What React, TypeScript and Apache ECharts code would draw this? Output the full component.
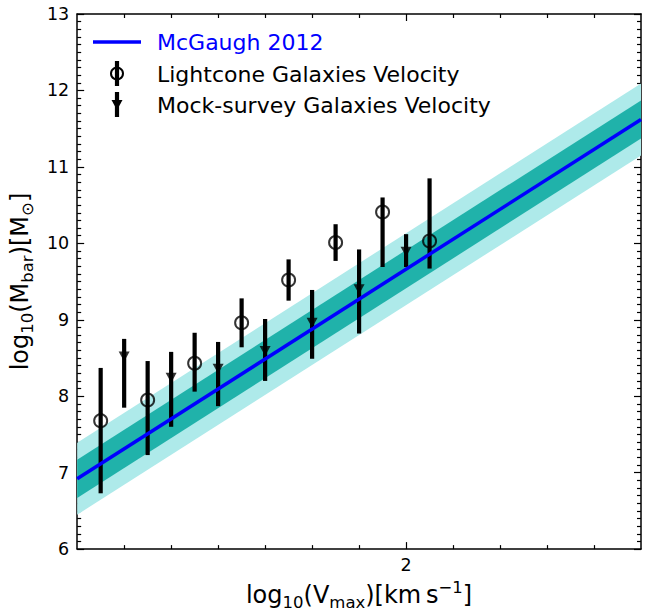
import React, { useEffect, useRef } from "react";
import * as echarts from "echarts";

// Axis ranges and ticks
const xMin = 1.3;
const xMax = 2.5;
const yMin = 6;
const yMax = 13;
const xMajorTicks = [2];
const xMinorTicks = [1.4, 1.5, 1.6, 1.7, 1.8, 1.9, 2.1, 2.2, 2.3, 2.4];

// McGaugh 2012 relation and its scatter bands
const relationX = [1.3, 2.5];
const relationY = [6.92, 11.62];
const innerBand = 0.25;
const outerBand = 0.47;

// Lightcone galaxies (open circles)
const lightX = [1.35, 1.45, 1.55, 1.65, 1.75, 1.85, 1.95, 2.05];
const lightY = [7.68, 7.95, 8.43, 8.96, 9.52, 10.01, 10.41, 10.03];
const lightLo = [6.73, 7.23, 8.06, 8.64, 9.25, 9.77, 9.69, 9.67];
const lightHi = [8.37, 8.46, 8.83, 9.28, 9.79, 10.25, 10.6, 10.85];

// Mock-survey galaxies (down triangles)
const mockX = [1.4, 1.5, 1.6, 1.7, 1.8, 1.9, 2.0];
const mockY = [8.52, 8.24, 8.36, 8.59, 8.96, 9.4, 9.89];
const mockLo = [7.85, 7.6, 7.87, 8.2, 8.49, 8.82, 9.69];
const mockHi = [8.75, 8.58, 8.71, 9.01, 9.39, 9.92, 10.12];

const FONT = "DejaVu Sans";

function bandSeries(half: number, color: string, z: number) {
  return {
    type: "custom",
    xAxisIndex: 0,
    yAxisIndex: 0,
    silent: true,
    z,
    data: [[relationX[0], relationY[0]]],
    encode: { x: 0, y: 1 },
    renderItem: (_p: any, api: any) => {
      const pts: number[][] = [];
      relationX.forEach((x, i) => pts.push(api.coord([x, relationY[i] + half])));
      for (let i = relationX.length - 1; i >= 0; i--) {
        pts.push(api.coord([relationX[i], relationY[i] - half]));
      }
      return { type: "polygon", shape: { points: pts }, style: { fill: color } };
    },
  };
}

function errorSeries(xs: number[], lo: number[], hi: number[]) {
  return {
    type: "custom",
    xAxisIndex: 0,
    yAxisIndex: 0,
    silent: true,
    z: 4,
    data: xs.map((x, i) => [x, lo[i], hi[i]]),
    encode: { x: 0, y: [1, 2] },
    renderItem: (_p: any, api: any) => {
      const a = api.coord([api.value(0), api.value(1)]);
      const b = api.coord([api.value(0), api.value(2)]);
      return {
        type: "line",
        shape: { x1: a[0], y1: a[1], x2: b[0], y2: b[1] },
        style: { stroke: "#000", lineWidth: 4.2 },
      };
    },
  };
}

const axisLineStyle = { color: "#000", width: 1.5 };
const tickStyle = { color: "#000", width: 1.2 };

export default function App() {
  const ref = useRef<HTMLDivElement>(null);
  useEffect(() => {
    if (!ref.current) return;
    const chart = echarts.init(ref.current, undefined, { renderer: "svg" });
    const baseX = {
      type: "value",
      min: xMin,
      max: xMax,
      splitLine: { show: false },
      axisLine: { show: false, onZero: false },
    };
    const subRich = {
      a: { fontSize: 24, fontFamily: FONT, color: "#000", lineHeight: 32 },
      b: { fontSize: 16.5, fontFamily: FONT, color: "#000", lineHeight: 17, verticalAlign: "bottom" },
      c: { fontSize: 16.5, fontFamily: FONT, color: "#000", lineHeight: 17, verticalAlign: "top" },
    };
    chart.setOption({
      animation: false,
      backgroundColor: "#fff",
      grid: { left: 76, top: 14, width: 565, height: 545, containLabel: false },
      xAxis: [
        {
          ...baseX,
          position: "bottom",
          interval: 0.1,
          axisLine: { show: true, onZero: false, lineStyle: axisLineStyle },
          axisTick: { show: true, inside: true, length: 4, lineStyle: tickStyle, customValues: xMinorTicks },
          axisLabel: {
            show: true,
            customValues: xMajorTicks,
            formatter: (v: number) => String(Math.round(v)),
            fontSize: 17.5,
            fontFamily: FONT,
            color: "#000",
            margin: 7,
          },
          name: "{a|log}{b|10}{a|(V}{b|max}{a|)[km\u2009s}{c|\u22121}{a|]}",
          nameLocation: "middle",
          nameGap: 26,
          nameTextStyle: { rich: subRich },
        },
        {
          ...baseX,
          position: "bottom",
          axisTick: { show: true, inside: true, length: 7, lineStyle: tickStyle, customValues: xMajorTicks },
          axisLabel: { show: false },
        },
        {
          ...baseX,
          position: "top",
          axisLine: { show: true, onZero: false, lineStyle: axisLineStyle },
          axisTick: { show: true, inside: true, length: 4, lineStyle: tickStyle, customValues: xMinorTicks },
          axisLabel: { show: false },
        },
        {
          ...baseX,
          position: "top",
          axisTick: { show: true, inside: true, length: 7, lineStyle: tickStyle, customValues: xMajorTicks },
          axisLabel: { show: false },
        },
      ],
      yAxis: [
        {
          type: "value",
          min: yMin,
          max: yMax,
          interval: 1,
          position: "left",
          splitLine: { show: false },
          axisLine: { show: true, onZero: false, lineStyle: axisLineStyle },
          axisTick: { show: true, inside: true, length: 7, lineStyle: tickStyle },
          minorTick: { show: true, splitNumber: 10, length: 4, lineStyle: tickStyle },
          axisLabel: { fontSize: 17.5, fontFamily: FONT, color: "#000", margin: 8 },
          name: "{a|log}{b|10}{a|(M}{b|bar}{a|)[M}{b|\u2299}{a|]}",
          nameLocation: "middle",
          nameRotate: 90,
          nameGap: 17,
          nameTextStyle: { rich: subRich },
        },
        {
          type: "value",
          min: yMin,
          max: yMax,
          interval: 1,
          position: "right",
          splitLine: { show: false },
          axisLine: { show: true, onZero: false, lineStyle: axisLineStyle },
          axisTick: { show: true, inside: true, length: 7, lineStyle: tickStyle },
          minorTick: { show: true, splitNumber: 10, length: 4, lineStyle: tickStyle },
          axisLabel: { show: false },
        },
      ],
      series: [
        bandSeries(outerBand, "#aeeaea", 1),
        bandSeries(innerBand, "#20b2aa", 2),
        errorSeries(lightX, lightLo, lightHi),
        errorSeries(mockX, mockLo, mockHi),
        {
          type: "line",
          name: "McGaugh 2012",
          xAxisIndex: 0,
          yAxisIndex: 0,
          data: relationX.map((x, i) => [x, relationY[i]]),
          showSymbol: false,
          symbol: "none",
          lineStyle: { color: "#0000ff", width: 3.5 },
          z: 5,
          silent: true,
        },
        {
          type: "scatter",
          name: "Lightcone Galaxies Velocity",
          xAxisIndex: 0,
          yAxisIndex: 0,
          data: lightX.map((x, i) => [x, lightY[i]]),
          symbol: "circle",
          symbolSize: 13,
          itemStyle: { color: "rgba(0,0,0,0)", borderColor: "#000", borderWidth: 2 },
          z: 6,
          silent: true,
        },
        {
          type: "scatter",
          name: "Mock-survey Galaxies Velocity",
          xAxisIndex: 0,
          yAxisIndex: 0,
          data: mockX.map((x, i) => [x, mockY[i]]),
          symbol: "triangle",
          symbolRotate: 180,
          symbolSize: [11, 10],
          itemStyle: { color: "#000" },
          z: 6,
          silent: true,
        },
      ],
      graphic: [
        { type: "line", shape: { x1: 93, y1: 42, x2: 141, y2: 42 }, style: { stroke: "#0000ff", lineWidth: 3.5 }, z: 10 },
        { type: "text", x: 157, y: 42, style: { text: "McGaugh 2012", fill: "#0000ff", fontSize: 22, fontFamily: FONT, verticalAlign: "middle" }, z: 10 },
        { type: "line", shape: { x1: 117, y1: 61, x2: 117, y2: 86 }, style: { stroke: "#000", lineWidth: 4.2 }, z: 10 },
        { type: "circle", shape: { cx: 117, cy: 73.5, r: 6 }, style: { fill: "rgba(0,0,0,0)", stroke: "#000", lineWidth: 2 }, z: 11 },
        { type: "text", x: 157, y: 74, style: { text: "Lightcone Galaxies Velocity", fill: "#000", fontSize: 22, fontFamily: FONT, verticalAlign: "middle" }, z: 10 },
        { type: "line", shape: { x1: 117, y1: 92, x2: 117, y2: 117 }, style: { stroke: "#000", lineWidth: 4.2 }, z: 10 },
        { type: "polygon", shape: { points: [[111.5, 100], [122.5, 100], [117, 110]] }, style: { fill: "#000" }, z: 11 },
        { type: "text", x: 157, y: 105, style: { text: "Mock-survey Galaxies Velocity", fill: "#000", fontSize: 22, fontFamily: FONT, verticalAlign: "middle" }, z: 10 },
      ],
    });
    return () => chart.dispose();
  }, []);
  return (
    <div
      ref={ref}
      style={{ position: "absolute", left: 0, top: 0, width: 656, height: 616, background: "#fff" }}
    />
  );
}
